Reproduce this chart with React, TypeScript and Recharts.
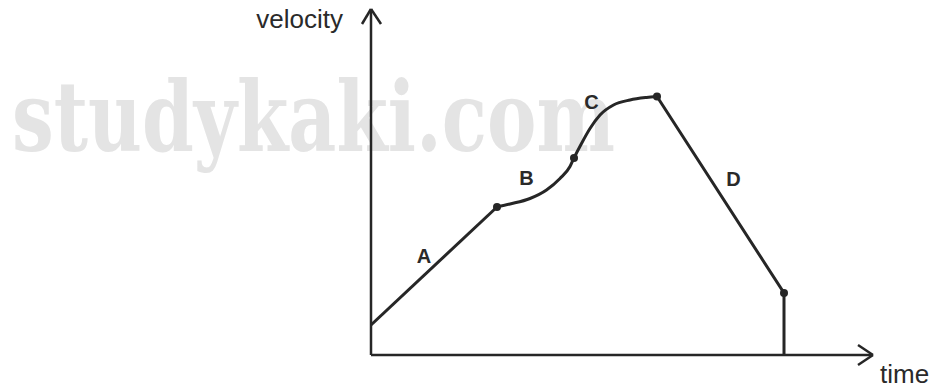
import React from 'react';
import { ComposedChart, Line, Scatter, XAxis, YAxis, ReferenceLine, ReferenceDot } from 'recharts';

// velocity-time sketch (x = time, y = velocity, arbitrary units)
const segmentA = [
  { t: 0, v: 6.0 },
  { t: 25.2, v: 29.6 },
];

const segmentBC = [
  { t: 25.2, v: 29.6 },
  { t: 27.8, v: 30.2 },
  { t: 31.8, v: 31.3 },
  { t: 35.1, v: 33.0 },
  { t: 37.8, v: 35.3 },
  { t: 39.8, v: 37.7 },
  { t: 40.6, v: 39.4 },
  { t: 42.1, v: 42.3 },
  { t: 43.8, v: 45.3 },
  { t: 45.8, v: 48.0 },
  { t: 48.5, v: 50.0 },
  { t: 51.8, v: 51.0 },
  { t: 55.1, v: 51.5 },
  { t: 57.2, v: 51.7 },
];

const segmentD = [
  { t: 57.2, v: 51.7 },
  { t: 82.6, v: 12.4 },
  { t: 82.6, v: 0 },
];

const keyPoints = [
  { t: 25.2, v: 29.6 },
  { t: 40.6, v: 39.4 },
  { t: 57.2, v: 51.7 },
  { t: 82.6, v: 12.4 },
];

const segmentLabels = [
  { name: 'A', t: 10.6, v: 19.9 },
  { name: 'B', t: 31.1, v: 35.5 },
  { name: 'C', t: 44.1, v: 50.7 },
  { name: 'D', t: 72.5, v: 35.3 },
];

const X_MAX = 100.4;
const Y_MAX = 69.2;

// arrow heads at the end of each axis: [arm, tip, arm]
const yArrow = [
  { t: -1.8, v: 66.2 },
  { t: 0, v: Y_MAX },
  { t: 2.0, v: 66.2 },
];
const xArrow = [
  { t: 97.4, v: 2.0 },
  { t: X_MAX, v: 0 },
  { t: 97.4, v: -2.0 },
];

const INK = '#262626';
const AXIS_FONT = '"Liberation Sans", Arial, sans-serif';

const seg = (a: { t: number; v: number }, b: { t: number; v: number }) => [
  { x: a.t, y: a.v },
  { x: b.t, y: b.v },
];

export default function App() {
  return (
    <div style={{ position: 'relative', width: 932, height: 389, background: '#fff' }}>
      <style>{`body { margin: 0; }`}</style>
      {/* watermark and axis titles sit behind the chart */}
      <svg width={932} height={389} style={{ position: 'absolute', left: 0, top: 0 }}>
        <text
          transform="translate(12,151) scale(1,1.34)"
          x={0}
          y={0}
          fill="#e4e4e4"
          fontSize={73}
          fontWeight="bold"
          fontFamily='"DejaVu Serif", serif'
          textLength={603}
          lengthAdjust="spacingAndGlyphs"
        >
          studykaki.com
        </text>
        <text x={343} y={28} textAnchor="end" fill="#2a2a2a" fontSize={26} fontFamily={AXIS_FONT}>
          velocity
        </text>
        <text x={880} y={383} textAnchor="start" fill="#2a2a2a" fontSize={26} fontFamily={AXIS_FONT}>
          time
        </text>
      </svg>
      <div style={{ position: 'absolute', left: 0, top: 0 }}>
        <ComposedChart width={932} height={389} margin={{ top: 9, right: 59, bottom: 33, left: 370 }}>
          <XAxis
            dataKey="t"
            type="number"
            domain={[0, X_MAX]}
            allowDataOverflow
            height={1}
            tick={false}
            tickLine={false}
            axisLine={{ stroke: INK, strokeWidth: 2.5 }}
          />
          <YAxis
            dataKey="v"
            type="number"
            domain={[0, Y_MAX]}
            allowDataOverflow
            width={1}
            tick={false}
            tickLine={false}
            axisLine={{ stroke: INK, strokeWidth: 2.5 }}
          />
          <ReferenceLine segment={seg(yArrow[0], yArrow[1])} stroke={INK} strokeWidth={2.5} ifOverflow="visible" />
          <ReferenceLine segment={seg(yArrow[1], yArrow[2])} stroke={INK} strokeWidth={2.5} ifOverflow="visible" />
          <ReferenceLine segment={seg(xArrow[0], xArrow[1])} stroke={INK} strokeWidth={2.5} ifOverflow="visible" />
          <ReferenceLine segment={seg(xArrow[1], xArrow[2])} stroke={INK} strokeWidth={2.5} ifOverflow="visible" />
          <Line data={segmentA} dataKey="v" type="linear" stroke={INK} strokeWidth={3} dot={false} activeDot={false} isAnimationActive={false} />
          <Line data={segmentBC} dataKey="v" type="monotone" stroke={INK} strokeWidth={3} dot={false} activeDot={false} isAnimationActive={false} />
          <Line data={segmentD} dataKey="v" type="linear" stroke={INK} strokeWidth={3} dot={false} activeDot={false} isAnimationActive={false} />
          <Scatter data={keyPoints} dataKey="v" fill={INK} shape={(p: any) => <circle cx={p.cx} cy={p.cy} r={4} fill={INK} />} isAnimationActive={false} />
          {segmentLabels.map(l => (
            <ReferenceDot
              key={l.name}
              x={l.t}
              y={l.v}
              r={0}
              fill="none"
              stroke="none"
              ifOverflow="visible"
              label={{
                content: (p: any) => (
                  <text x={p.viewBox.x} y={p.viewBox.y + 7} textAnchor="middle" fill="#2a2a2a" fontSize={20} fontWeight="bold" fontFamily={AXIS_FONT}>
                    {l.name}
                  </text>
                ),
              }}
            />
          ))}
        </ComposedChart>
      </div>
    </div>
  );
}
